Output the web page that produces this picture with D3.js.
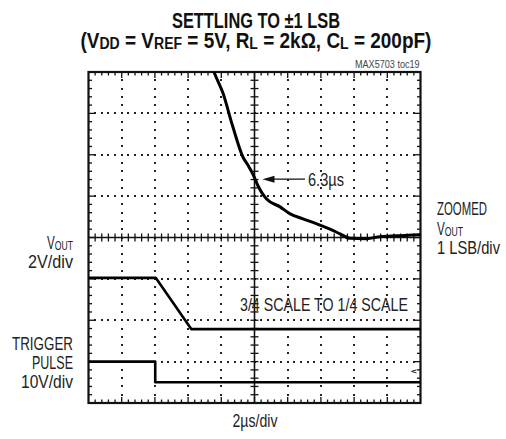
<!DOCTYPE html>
<html><head><meta charset="utf-8">
<script src="https://cdn.jsdelivr.net/npm/d3@7"></script>
<style>
body{margin:0;background:#fff;}
svg text{font-family:"Liberation Sans",Arial,sans-serif;fill:#222;}
</style></head><body>
<svg id="c" width="506" height="439"></svg>
<script>
// ---- data ----
const timeDomain = [0, 20];            // µs, 2µs/div, 10 divisions
const divisions = 8;                    // vertical divisions
// zoomed VOUT (LSB relative to final value, 1 LSB/div)
const zoomT = [7.3, 7.56, 8.1, 8.7, 9.31, 9.6, 9.93, 10.21, 10.43, 10.73, 11.54, 12.15, 12.92, 13.75, 14.55, 15.15, 15.75, 16.76, 17.56, 18.6, 19.55, 20];
const zoomV = [4.3, 4.0, 3.49, 2.67, 1.94, 1.75, 1.51, 1.25, 1.09, 0.93, 0.74, 0.57, 0.45, 0.33, 0.2, 0.09, -0.02, -0.03, 0.02, 0.04, 0.06, 0.07];
// VOUT 2V/div
const voutT = [0, 4.05, 6.2, 20];
const voutV = [3.75, 3.75, 1.27, 1.27];
// trigger pulse 10V/div
const trigT = [0, 4.02, 4.02, 20];
const trigV = [5, 5, 0, 0];
const arrowTime = 10.3;  // 6.3µs after trigger
const arrowLSB = 1.41;

const svg = d3.select("#c");
const L = 88.5, R = 420.5, T = 72, B = 403;
const x = d3.scaleLinear().domain(timeDomain).range([L, R]);
const gx = d3.scaleLinear().domain([0, 10]).range([L, R]);
const gy = d3.scaleLinear().domain([0, divisions]).range([T, B]);
const yZ = d3.scaleLinear().domain([-4, 4]).range([B, T]);
const yV = d3.scaleLinear().domain([0, 2]).range([gy(6.85), gy(5.85)]);
const yT = d3.scaleLinear().domain([0, 10]).range([gy(7.5), gy(6.5)]);

// ---- grid dots ----
const g = svg.append("g");
const dots = [];
for (let i = 1; i < 10; i++) { if (i === 5) continue;
  for (let j = 1; j < divisions * 5; j++) dots.push([gx(i), gy(j / 5)]); }
for (let k = 1; k < divisions; k++) { if (k === 4) continue;
  for (let j = 1; j < 50; j++) dots.push([gx(j / 5), gy(k)]); }
g.selectAll("rect.d").data(dots).join("rect").attr("class", "d")
  .attr("x", d => Math.round(d[0] - 1)).attr("y", d => Math.round(d[1] - 1)).attr("width", 2).attr("height", 2).attr("fill", "#222");

// ---- center axes with ticks ----
const cx = gx(5), cy = gy(4);
g.append("line").attr("x1", L).attr("x2", R).attr("y1", cy).attr("y2", cy).attr("stroke", "#111").attr("stroke-width", 1.6);
g.append("line").attr("x1", cx).attr("x2", cx).attr("y1", T).attr("y2", B).attr("stroke", "#111").attr("stroke-width", 1.6);
const tk = g.append("g").attr("stroke", "#111").attr("stroke-width", 1.3);
for (let j = 1; j < 50; j++) {
  const xx = gx(j / 5); tk.append("line").attr("x1", xx).attr("x2", xx).attr("y1", cy - 4).attr("y2", cy + 4);
  tk.append("line").attr("x1", xx).attr("x2", xx).attr("y1", B).attr("y2", B - (j % 5 === 0 ? 6 : 3.5));
  tk.append("line").attr("x1", xx).attr("x2", xx).attr("y1", T).attr("y2", T + (j % 5 === 0 ? 6 : 3.5));
}
for (let j = 1; j < divisions * 5; j++) {
  const yy = gy(j / 5); tk.append("line").attr("x1", cx - 4).attr("x2", cx + 4).attr("y1", yy).attr("y2", yy);
  tk.append("line").attr("x1", L).attr("x2", L + (j % 5 === 0 ? 6 : 3.5)).attr("y1", yy).attr("y2", yy);
  tk.append("line").attr("x1", R).attr("x2", R - (j % 5 === 0 ? 6 : 3.5)).attr("y1", yy).attr("y2", yy);
}
g.append("rect").attr("x", L).attr("y", T).attr("width", R - L).attr("height", B - T)
  .attr("fill", "none").attr("stroke", "#111").attr("stroke-width", 2.2);

// ---- traces ----
svg.append("clipPath").attr("id", "clip").append("rect").attr("x", L).attr("y", T).attr("width", R - L).attr("height", B - T);
const tr = svg.append("g").attr("clip-path", "url(#clip)").attr("fill", "none").attr("stroke", "#000").attr("stroke-linejoin", "round");
tr.append("path").attr("d", d3.line().curve(d3.curveMonotoneX)(zoomT.map((t, i) => [x(t), yZ(zoomV[i])]))).attr("stroke-width", 3);
tr.append("path").attr("d", d3.line()(voutT.map((t, i) => [x(t), yV(voutV[i])]))).attr("stroke-width", 2.6);
tr.append("path").attr("d", d3.line()(trigT.map((t, i) => [x(t), yT(trigV[i])]))).attr("stroke-width", 2.6);

// trigger level marker
svg.append("path").attr("d", `M${R - 4},${yT(3)} l-5,1.5 l5,1.5`).attr("fill", "none").attr("stroke", "#222").attr("stroke-width", 1);

// ---- text helper: place text and squeeze to reference width ----
function label(str, xp, yp, w, anchor, size, bold, subShift) {
  const t = svg.append("text").attr("font-size", size).attr("font-weight", bold ? "bold" : "normal");
  const sh = subShift === undefined ? 0.1 : subShift;
  if (typeof str === "string") t.text(str);
  else {
    let prev = 0;
    str.forEach(([s, sub]) => {
      t.append("tspan").attr("font-size", sub ? size * 0.74 : size).attr("dy", sub === prev ? 0 : (sub ? size * sh : -size * sh)).text(s);
      prev = sub;
    });
  }
  const bw = t.node().getBBox().width;
  const k = w / bw;
  const x0 = anchor === "end" ? xp - w : anchor === "middle" ? xp - w / 2 : xp;
  t.attr("transform", `translate(${x0},${yp}) scale(${k},1)`);
  return t;
}

// arrow annotation
const ax = x(arrowTime) + 3, ay = yZ(arrowLSB);
svg.append("line").attr("x1", ax + 8).attr("x2", 305).attr("y1", ay).attr("y2", ay).attr("stroke", "#111").attr("stroke-width", 1.3);
svg.append("path").attr("d", `M${ax},${ay} L${ax + 12},${ay - 3.5} L${ax + 12},${ay + 3.5} Z`).attr("fill", "#111");
label("6.3µs", 308, ay + 7, 36, "start", 18);

// ---- texts ----
label("MAX5703 toc19", 420, 68, 65, "end", 10).style("fill", "#444");
label("SETTLING TO ±1 LSB", 256, 28, 168, "middle", 21.5, true).style("fill", "#111");
label([["(V", 0], ["DD", 1], [" = V", 0], ["REF", 1], [" = 5V, R", 0], ["L", 1], [" = 2kΩ, C", 0], ["L", 1], [" = 200pF)", 0]], 256, 48, 351, "middle", 21.5, true, 0.06).style("fill", "#111");
label([["V", 0], ["OUT", 1]], 73, 249, 26, "end", 18, false, 0.03);
label("2V/div", 73, 268, 45, "end", 18);
label("TRIGGER", 73, 350, 61, "end", 18);
label("PULSE", 73, 369, 41, "end", 18);
label("10V/div", 73, 388, 52, "end", 18);
label("ZOOMED", 437, 215, 50, "start", 18);
label([["V", 0], ["OUT", 1]], 437, 235, 26, "start", 18, false, 0.03);
label("1 LSB/div", 437, 254, 63, "start", 18);
label("3/4 SCALE TO 1/4 SCALE", 240, 311, 168, "start", 18);
label("2µs/div", 255, 427, 45, "middle", 18);
</script></body></html>
